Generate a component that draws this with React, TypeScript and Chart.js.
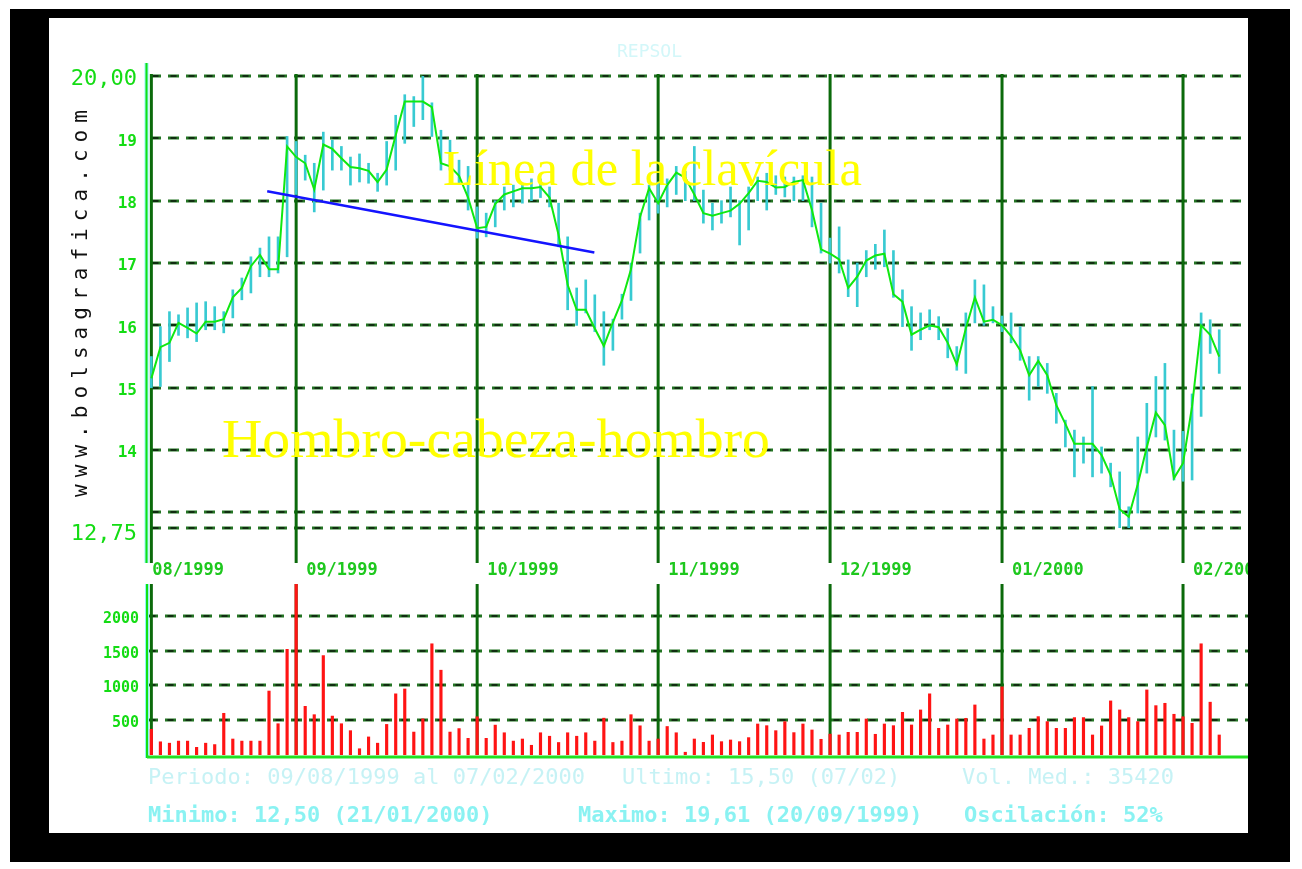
import React, { useEffect, useRef } from "react";
import { Chart, registerables } from "chart.js";

Chart.register(...registerables);

// ---------- data ----------
const monthLabels = ["08/1999", "09/1999", "10/1999", "11/1999", "12/1999", "01/2000", "02/2000"];
const monthStartIndex = [0, 16, 36, 56, 75, 94, 114];

const priceGridValues = [20, 19, 18, 17, 16, 15, 14, 13, 12.75];
const priceTickLabels = ["20,00", "19", "18", "17", "16", "15", "14", "", "12,75"];
const volumeGridValues = [2000, 1500, 1000, 500];
const volumeTickLabels = ["2000", "1500", "1000", "500"];

const closes = [
  15.15, 15.65, 15.72, 16.04, 15.96, 15.87, 16.06, 16.06, 16.1, 16.45,
  16.6, 16.95, 17.13, 16.9, 16.9, 18.87, 18.7, 18.6, 18.18, 18.9,
  18.83, 18.68, 18.54, 18.52, 18.48, 18.3, 18.5, 19.05, 19.59, 19.59,
  19.59, 19.5, 18.6, 18.55, 18.4, 18.05, 17.56, 17.58, 17.95, 18.1,
  18.15, 18.2, 18.2, 18.22, 18.05, 17.45, 16.65, 16.25, 16.25, 15.95,
  15.67, 16.05, 16.4, 16.9, 17.74, 18.2, 17.96, 18.25, 18.45, 18.37,
  18.1, 17.8, 17.76, 17.8, 17.84, 17.95, 18.12, 18.32, 18.3, 18.21,
  18.22, 18.3, 18.33, 17.85, 17.22, 17.15, 17.06, 16.6, 16.78, 17.04,
  17.12, 17.15, 16.5, 16.38, 15.85, 15.93, 16.0, 15.97, 15.72, 15.37,
  15.95, 16.45, 16.06, 16.09, 16.0, 15.83, 15.6, 15.2, 15.43, 15.2,
  14.72, 14.42, 14.1, 14.1, 14.1, 13.92, 13.6, 13.05, 12.93, 13.45,
  14.05, 14.6, 14.4, 13.55, 13.79, 14.7, 16.0, 15.85, 15.5,
];
const highs = [
  15.5, 15.98, 16.22, 16.17, 16.28, 16.36, 16.38, 16.3, 16.22, 16.57,
  16.76, 17.1, 17.24, 17.42, 17.42, 19.03, 18.95, 18.73, 18.6, 19.1,
  18.97, 18.87, 18.7, 18.75, 18.6, 18.44, 18.95, 19.37, 19.7, 19.67,
  20.0, 19.57, 19.13, 18.97, 18.65, 18.55, 17.9, 17.8, 18.0, 18.22,
  18.25, 18.28, 18.35, 18.35, 18.22, 17.96, 17.42, 16.6, 16.73, 16.49,
  16.22, 16.1, 16.5, 17.0, 17.8, 18.25, 18.3, 18.35, 18.55, 18.47,
  18.87, 18.17, 17.96, 18.0, 18.22, 18.0, 18.22, 18.38, 18.44, 18.4,
  18.38, 18.38, 18.4, 18.38, 17.96, 17.4, 17.58, 17.05, 17.0, 17.2,
  17.3, 17.53, 17.2, 16.57, 16.3, 16.2, 16.25, 16.14, 15.95, 15.66,
  16.2, 16.73, 16.65, 16.3, 16.15, 16.2, 15.98, 15.5, 15.5, 15.39,
  14.91, 14.48, 14.32, 14.21, 15.02, 14.05, 13.79, 13.65, 13.09, 14.21,
  14.75, 15.18, 15.39, 14.32, 14.3, 14.9, 16.2, 16.09, 15.93,
];
const lows = [
  15.0, 15.02, 15.42, 15.84, 15.8, 15.74, 15.93, 15.93, 15.88, 16.12,
  16.41, 16.52, 16.78, 16.78, 16.84, 17.1, 18.1, 18.33, 17.82, 18.17,
  18.49, 18.49, 18.25, 18.3, 18.28, 18.15, 18.25, 18.49, 18.92, 19.19,
  19.3, 19.03, 18.49, 18.49, 18.28, 17.85, 17.4, 17.42, 17.58, 17.85,
  17.9, 17.96, 18.0, 18.05, 17.9, 17.26, 16.25, 16.0, 16.2, 15.9,
  15.36, 15.6, 16.1, 16.4, 17.16, 17.69, 17.8, 17.9, 18.1, 18.0,
  18.0, 17.64, 17.53, 17.64, 17.74, 17.29, 17.53, 18.0, 17.85, 18.1,
  18.06, 18.0, 18.0, 17.58, 17.16, 17.0, 16.84, 16.46, 16.3, 16.78,
  16.9, 16.94, 16.45, 15.98, 15.6, 15.77, 15.93, 15.77, 15.48, 15.28,
  15.23, 16.04, 16.0, 16.04, 15.9, 15.72, 15.44, 14.8, 15.02, 14.91,
  14.43, 14.05, 13.57, 13.79, 13.57, 13.63, 13.41, 12.75, 12.75, 12.99,
  13.63, 14.21, 14.16, 13.52, 13.5, 13.52, 14.54, 15.55, 15.23,
];
const volumes = [
  370, 190, 170, 200, 200, 110, 170, 150, 600, 230,
  200, 200, 200, 920, 450, 1520, 2460, 700, 580, 1430,
  560, 450, 350, 90, 260, 170, 440, 880, 950, 330,
  520, 1600, 1220, 330, 380, 240, 550, 240, 430, 320,
  200, 230, 140, 320, 270, 180, 320, 270, 320, 200,
  530, 180, 200, 580, 420, 200, 230, 410, 320, 40,
  230, 182, 288, 192, 216, 192, 250, 446, 422, 350,
  480, 322, 446, 360, 226, 300, 288, 326, 326, 518,
  298, 446, 422, 614, 432, 648, 880, 384, 432, 518,
  528, 720, 230, 288, 980, 288, 288, 384, 552, 480,
  384, 384, 538, 538, 288, 418, 778, 648, 538, 480,
  936, 710, 744, 586, 550, 456, 1600, 760, 288,
];
const necklineIndex = [12.8, 48.95];
const necklineValue = [18.15, 17.17];

const titleText = "REPSOL";
const siteText = "www.bolsagrafica.com";
const necklineLabel = "Línea de la clavícula";
const patternLabel = "Hombro-cabeza-hombro";
const statsLine1 = ["Periodo: 09/08/1999 al 07/02/2000", "Ultimo: 15,50 (07/02)", "Vol. Med.: 35420"];
const statsLine2 = ["Minimo: 12,50 (21/01/2000)", "Maximo: 19,61 (20/09/1999)", "Oscilación: 52%"];

// ---------- styling helpers ----------
const MONO = "'DejaVu Sans Mono', 'Liberation Mono', monospace";
const SERIF = "'Liberation Serif', 'DejaVu Serif', serif";
const X_MIN = -0.15;
const X_MAX = 121.18;

function dashedH(ctx: CanvasRenderingContext2D, x0: number, x1: number, y: number) {
  ctx.save();
  ctx.setLineDash([11, 7]);
  ctx.lineDashOffset = 0;
  ctx.strokeStyle = "#237523";
  ctx.lineWidth = 3;
  ctx.beginPath();
  ctx.moveTo(x0, y);
  ctx.lineTo(x1, y);
  ctx.stroke();
  ctx.setLineDash([6, 12]);
  ctx.lineDashOffset = -2.5;
  ctx.strokeStyle = "#0c140c";
  ctx.lineWidth = 1.4;
  ctx.beginPath();
  ctx.moveTo(x0, y);
  ctx.lineTo(x1, y);
  ctx.stroke();
  ctx.restore();
}

function vline(ctx: CanvasRenderingContext2D, x: number, y0: number, y1: number, color: string, w: number) {
  ctx.save();
  ctx.strokeStyle = color;
  ctx.lineWidth = w;
  ctx.beginPath();
  ctx.moveTo(x, y0);
  ctx.lineTo(x, y1);
  ctx.stroke();
  ctx.restore();
}

function fitText(ctx: CanvasRenderingContext2D, text: string, family: string, width: number) {
  ctx.font = `100px ${family}`;
  const w = ctx.measureText(text).width;
  return (100 * width) / w;
}

const pricePlugin = {
  id: "priceDecor",
  beforeDatasetsDraw(chart: any) {
    const { ctx, chartArea, scales } = chart;
    const x = scales.x;
    const y = scales.y;
    priceGridValues.forEach((v) => {
      dashedH(ctx, chartArea.left, chartArea.right, Math.round(y.getPixelForValue(v)));
    });
    vline(ctx, chartArea.left - 3.5, chartArea.top - 13, chartArea.bottom + 35, "#8ff5f5", 4);
    vline(ctx, chartArea.left - 3.5, chartArea.top - 13, chartArea.bottom + 35, "#12e012", 2);
    monthStartIndex.forEach((m) => {
      const px = x.getPixelForValue(m);
      vline(ctx, px, chartArea.top - 2, chartArea.bottom + 35, "#0b6a0b", 3);
    });
  },
  afterDatasetsDraw(chart: any) {
    const { ctx, chartArea, scales } = chart;
    const x = scales.x;
    const y = scales.y;
    ctx.save();
    ctx.fillStyle = "#ffff00";
    ctx.textBaseline = "alphabetic";
    ctx.textAlign = "left";
    let fs = fitText(ctx, necklineLabel, SERIF, 419);
    ctx.font = `${fs}px ${SERIF}`;
    ctx.fillText(necklineLabel, 394, 167);
    fs = fitText(ctx, patternLabel, SERIF, 548);
    ctx.font = `${fs}px ${SERIF}`;
    ctx.fillText(patternLabel, 173, 439);

    ctx.fillStyle = "#14dc14";
    ctx.textAlign = "right";
    ctx.textBaseline = "middle";
    priceTickLabels.forEach((lab, i) => {
      if (!lab) return;
      const big = lab.length > 2;
      ctx.font = big ? `22px ${MONO}` : `bold 16px ${MONO}`;
      const off = lab === "12,75" ? 6 : 3;
      ctx.fillText(lab, chartArea.left - 13, y.getPixelForValue(priceGridValues[i]) + off);
    });

    ctx.textAlign = "left";
    ctx.font = `bold 17px ${MONO}`;
    ctx.fillStyle = "#1ec81e";
    monthStartIndex.forEach((m, i) => {
      const px = x.getPixelForValue(m);
      ctx.fillText(monthLabels[i], px + (i === 0 ? 1 : 10), 553);
    });

    ctx.save();
    ctx.translate(38, 479);
    ctx.rotate(-Math.PI / 2);
    ctx.fillStyle = "#111111";
    ctx.font = `21px ${MONO}`;
    ctx.textBaseline = "alphabetic";
    for (let i = 0; i < siteText.length; i++) {
      ctx.fillText(siteText[i], i * 19.7, 0);
    }
    ctx.restore();

    ctx.font = `18px ${MONO}`;
    ctx.fillStyle = "rgba(110, 230, 235, 0.3)";
    ctx.textBaseline = "middle";
    ctx.fillText(titleText, 568, 34);
    ctx.restore();
  },
};

const volumePlugin = {
  id: "volumeDecor",
  beforeDatasetsDraw(chart: any) {
    const { ctx, chartArea, scales } = chart;
    const x = scales.x;
    const y = scales.y;
    volumeGridValues.forEach((v) => {
      dashedH(ctx, chartArea.left, chartArea.right, Math.round(y.getPixelForValue(v)));
    });
    monthStartIndex.forEach((m) => {
      const px = x.getPixelForValue(m);
      vline(ctx, px, chartArea.top, chartArea.bottom, "#0b6a0b", 3);
    });
  },
  afterDatasetsDraw(chart: any) {
    const { ctx, chartArea, scales } = chart;
    const y = scales.y;
    vline(ctx, chartArea.left, chartArea.top, chartArea.bottom + 3, "#8ff5f5", 4);
    vline(ctx, chartArea.left, chartArea.top, chartArea.bottom + 3, "#12e012", 2);
    ctx.save();
    ctx.strokeStyle = "#22e022";
    ctx.lineWidth = 3;
    ctx.beginPath();
    ctx.moveTo(chartArea.left, chartArea.bottom + 2);
    ctx.lineTo(chartArea.right, chartArea.bottom + 2);
    ctx.stroke();

    ctx.fillStyle = "#14dc14";
    ctx.font = `bold 15px ${MONO}`;
    ctx.textAlign = "right";
    ctx.textBaseline = "middle";
    volumeTickLabels.forEach((lab, i) => {
      ctx.fillText(lab, 90, y.getPixelForValue(volumeGridValues[i]) + 3);
    });

    ctx.textAlign = "left";
    ctx.font = `22px ${MONO}`;
    ctx.fillStyle = "rgba(120, 225, 230, 0.42)";
    const x1 = [99, 573, 913];
    statsLine1.forEach((t, i) => ctx.fillText(t, x1[i], 200));
    ctx.font = `bold 22px ${MONO}`;
    ctx.fillStyle = "#8af2f2";
    const x2 = [99, 529, 915];
    statsLine2.forEach((t, i) => ctx.fillText(t, x2[i], 238));
    ctx.restore();
  },
};

export default function App() {
  const priceRef = useRef<HTMLCanvasElement | null>(null);
  const volRef = useRef<HTMLCanvasElement | null>(null);

  useEffect(() => {
    const idx = closes.map((_, i) => i);
    const priceChart = new Chart(priceRef.current as HTMLCanvasElement, {
      type: "bar",
      data: {
        datasets: [
          {
            type: "bar",
            data: idx.map((i) => ({ x: i, y: [lows[i], highs[i]] })) as any,
            backgroundColor: "#38cad2",
            barThickness: 2,
            order: 3,
          } as any,
          {
            type: "line",
            data: idx.map((i) => ({ x: i, y: closes[i] })),
            borderColor: "#10e810",
            borderWidth: 2,
            pointRadius: 0,
            tension: 0,
            order: 2,
          } as any,
          {
            type: "line",
            data: necklineIndex.map((xx, i) => ({ x: xx, y: necklineValue[i] })),
            borderColor: "#1414ff",
            borderWidth: 2.5,
            pointRadius: 0,
            order: 1,
          } as any,
        ],
      },
      options: {
        animation: false,
        responsive: false,
        devicePixelRatio: 1,
        layout: { padding: { left: 101, right: 0, top: 58, bottom: 50 } },
        plugins: { legend: { display: false }, tooltip: { enabled: false }, title: { display: false } },
        scales: {
          x: { type: "linear", min: X_MIN, max: X_MAX, offset: false, display: false },
          y: { type: "linear", min: 12.75, max: 20, display: false },
        },
      },
      plugins: [pricePlugin],
    } as any);

    const volChart = new Chart(volRef.current as HTMLCanvasElement, {
      type: "bar",
      data: {
        datasets: [
          {
            data: idx.map((i) => ({ x: i, y: volumes[i] })),
            backgroundColor: "#ff1414",
            barThickness: 2.5,
          } as any,
        ],
      },
      options: {
        animation: false,
        responsive: false,
        devicePixelRatio: 1,
        layout: { padding: { left: 98, right: 0, top: 6, bottom: 78 } },
        plugins: { legend: { display: false }, tooltip: { enabled: false } },
        scales: {
          x: { type: "linear", min: X_MIN - 3 / 9.05, max: X_MAX, offset: false, display: false },
          y: { type: "linear", min: 0, max: 2460, display: false },
        },
      },
      plugins: [volumePlugin],
    } as any);

    return () => {
      priceChart.destroy();
      volChart.destroy();
    };
  }, []);

  return (
    <div style={{ position: "fixed", left: 0, top: 0, width: 1302, height: 869, background: "#ffffff" }}>
      <div style={{ position: "absolute", left: 10, top: 9, width: 1280, height: 853, background: "#000000" }} />
      <div style={{ position: "absolute", left: 49, top: 18, width: 1199, height: 815, background: "#ffffff" }} />
      <canvas
        ref={priceRef}
        width={1199}
        height={560}
        style={{ position: "absolute", left: 49, top: 18, width: 1199, height: 560 }}
      />
      <canvas
        ref={volRef}
        width={1199}
        height={255}
        style={{ position: "absolute", left: 49, top: 578, width: 1199, height: 255 }}
      />
    </div>
  );
}
